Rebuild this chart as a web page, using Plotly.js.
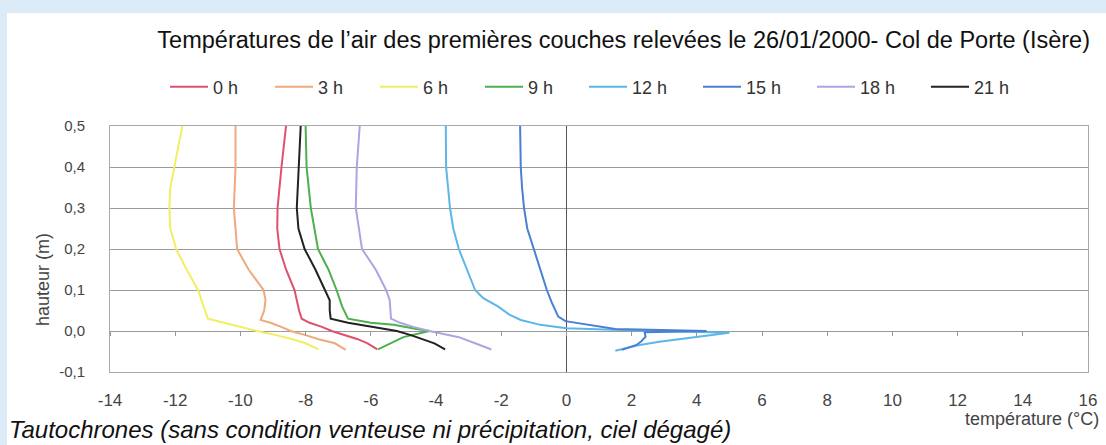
<!DOCTYPE html>
<html>
<head>
<meta charset="utf-8">
<script src="https://cdn.plot.ly/plotly-3.0.1.min.js"></script>
<style>html,body{margin:0;padding:0;background:#fff;}#chart{width:1106px;height:445px;}</style>
</head>
<body>
<div id="chart"></div>
<script>
// ---- data (temperature °C, height m) ----
const seriesNames = ["0 h", "3 h", "6 h", "9 h", "12 h", "15 h", "18 h", "21 h"];
const seriesColors = ["#e0506e", "#eeaa7c", "#f2ee62", "#4cb04c", "#5cb6e8", "#4a80d2", "#aaa6e2", "#222222"];

const h0 = [0.5, 0.45, 0.4, 0.35, 0.3, 0.25, 0.2, 0.15, 0.1, 0.05, 0.03, 0.02, 0.01, 0.0, -0.01, -0.02, -0.03, -0.045];
const t0 = [-8.6, -8.68, -8.74, -8.8, -8.86, -8.87, -8.8, -8.6, -8.34, -8.2, -8.12, -7.88, -7.5, -7.2, -6.8, -6.4, -6.1, -5.8];

const h3 = [0.5, 0.4, 0.3, 0.2, 0.15, 0.1, 0.076, 0.05, 0.027, 0.02, 0.01, 0.0, -0.01, -0.02, -0.03, -0.046];
const t3 = [-10.15, -10.15, -10.2, -10.1, -9.75, -9.29, -9.23, -9.27, -9.38, -9.08, -8.75, -8.46, -8.0, -7.6, -7.1, -6.77];

const h6 = [0.5, 0.45, 0.4, 0.35, 0.3, 0.25, 0.2, 0.15, 0.1, 0.05, 0.03, 0.022, 0.01, 0.0, -0.01, -0.02, -0.03, -0.045];
const t6 = [-11.78, -11.9, -12.03, -12.15, -12.18, -12.15, -11.97, -11.65, -11.3, -11.1, -11.0, -10.6, -10.0, -9.5, -8.9, -8.4, -8.0, -7.6];

const h9 = [0.5, 0.4, 0.3, 0.2, 0.15, 0.1, 0.06, 0.03, 0.02, 0.015, 0.005, 0.0, -0.015, -0.03, -0.045];
const t9 = [-8.0, -7.97, -7.84, -7.62, -7.3, -7.05, -6.88, -6.7, -6.0, -5.3, -4.6, -4.2, -5.0, -5.4, -5.78];

const h12 = [0.5, 0.45, 0.4, 0.35, 0.3, 0.25, 0.2, 0.15, 0.1, 0.08, 0.06, 0.04, 0.027, 0.015, 0.007, 0.003, 0.0, -0.004, -0.02, -0.026, -0.035, -0.048];
const t12 = [-3.7, -3.7, -3.69, -3.63, -3.57, -3.47, -3.3, -3.05, -2.8, -2.55, -2.1, -1.75, -1.4, -0.8, 0.0, 1.4, 3.0, 5.0, 3.45, 2.85, 2.2, 1.5];

const h15 = [0.5, 0.45, 0.4, 0.35, 0.3, 0.25, 0.2, 0.15, 0.1, 0.07, 0.035, 0.024, 0.01, 0.005, 0.0, -0.003, -0.014, -0.025, -0.034, -0.046];
const t15 = [-1.42, -1.41, -1.4, -1.36, -1.3, -1.2, -1.0, -0.8, -0.6, -0.45, -0.25, -0.03, 1.0, 1.5, 4.3, 2.4, 2.43, 2.3, 2.15, 1.7];

const h18 = [0.5, 0.4, 0.3, 0.2, 0.15, 0.1, 0.075, 0.03, 0.02, 0.01, 0.0, -0.015, -0.03, -0.045];
const t18 = [-6.34, -6.43, -6.46, -6.27, -5.85, -5.53, -5.42, -5.38, -5.1, -4.7, -4.2, -3.3, -2.8, -2.3];

const h21 = [0.5, 0.45, 0.4, 0.35, 0.3, 0.25, 0.2, 0.15, 0.1, 0.075, 0.05, 0.03, 0.02, 0.01, 0.0, -0.01, -0.03, -0.045];
const t21 = [-8.15, -8.18, -8.2, -8.25, -8.27, -8.22, -8.03, -7.7, -7.42, -7.26, -7.26, -7.23, -6.7, -5.9, -5.2, -4.77, -4.05, -3.72];

const temps = [t0, t3, t6, t9, t12, t15, t18, t21];
const heights = [h0, h3, h6, h9, h12, h15, h18, h21];

const xTicks = [-14, -12, -10, -8, -6, -4, -2, 0, 2, 4, 6, 8, 10, 12, 14, 16];
const yTicks = [-0.1, 0.0, 0.1, 0.2, 0.3, 0.4, 0.5];

const titleText = "Températures de l’air des premières couches relevées le 26/01/2000- Col de Porte (Isère)";
const yTitleText = "hauteur (m)";
const xTitleText = "température (°C)";
const noteText = "Tautochrones (sans condition venteuse ni précipitation, ciel dégagé)";

// ---- build ----
const FONT = "Liberation Sans, Arial, sans-serif";
const traces = seriesNames.map((n, i) => ({
  type: "scatter", mode: "lines", name: n,
  x: temps[i], y: heights[i],
  legend: i < 4 ? "legend" : "legend2",
  line: {color: seriesColors[i], width: 2},
  hoverinfo: "skip"
}));
// helper trace for tick axis drawn along y = 0
traces.push({type: "scatter", mode: "lines", x: [], y: [], xaxis: "x2", showlegend: false, hoverinfo: "skip"});

const L = 110, R = 1088, T = 126, B = 372;
const W = 1106, H = 445;
const pw = R - L, ph = B - T;
const px = v => (v - L) / pw;
const py = v => (B - v) / ph;

const legendBase = {orientation: "h", xanchor: "left", y: py(87), yanchor: "middle",
  font: {family: FONT, size: 18, color: "#333"}, bgcolor: "rgba(0,0,0,0)", borderwidth: 0,
  itemwidth: 38, entrywidthmode: "pixels"};

const layout = {
  width: W, height: H,
  margin: {l: L, r: W - R, t: T, b: H - B, pad: 0},
  paper_bgcolor: "#dcebf8",
  plot_bgcolor: "rgba(0,0,0,0)",
  separators: ", ",
  font: {family: FONT, color: "#333", size: 15},
  title: {text: titleText, font: {family: FONT, size: 23.5, color: "#111"}, x: 1090 / W, xref: "container", xanchor: "right", y: 1 - 40 / H, yref: "container", yanchor: "middle"},
  showlegend: true,
  legend: Object.assign({}, legendBase, {x: px(165), entrywidth: 52}),
  legend2: Object.assign({}, legendBase, {x: px(584), entrywidth: 61}),
  xaxis: {range: [-14, 16], tickvals: xTicks, ticktext: xTicks.map(v => String(v)), ticks: "", showgrid: false,
          zeroline: true, zerolinecolor: "#555", zerolinewidth: 1,
          showline: true, mirror: true, linecolor: "#aaa", linewidth: 1,
          tickfont: {family: FONT, size: 17, color: "#444"}, ticklabelstandoff: 13, fixedrange: true},
  xaxis2: {range: [-14, 16], tickvals: xTicks, overlaying: "x", anchor: "free", position: py(331),
           showline: false, ticks: "outside", ticklen: 4, tickcolor: "#999", tickwidth: 1,
           showticklabels: false, showgrid: false, zeroline: false, fixedrange: true},
  yaxis: {range: [-0.1, 0.5], tickvals: yTicks, ticktext: yTicks.map(v => v.toFixed(1).replace(".", ",")), ticks: "",
          showgrid: true, gridcolor: "#9a9a9a", gridwidth: 1,
          zeroline: true, zerolinecolor: "#9a9a9a", zerolinewidth: 1,
          showline: true, mirror: true, linecolor: "#aaa", linewidth: 1,
          tickfont: {family: FONT, size: 15, color: "#444"}, ticklabelstandoff: 21, fixedrange: true},
  shapes: [
    {type: "rect", xref: "paper", yref: "paper", x0: px(7), x1: px(W + 5), y0: py(H + 5), y1: py(13),
     fillcolor: "#ffffff", line: {width: 0}, layer: "below"}
  ],
  annotations: [
    {text: yTitleText, xref: "paper", yref: "paper", x: px(43), y: py(280), textangle: -90,
     showarrow: false, xanchor: "center", yanchor: "middle", font: {family: FONT, size: 18, color: "#444"}},
    {text: xTitleText, xref: "paper", yref: "paper", x: px(1101), y: py(419),
     showarrow: false, xanchor: "right", yanchor: "middle", font: {family: FONT, size: 18, color: "#444"}},
    {text: "<i>" + noteText + "</i>", xref: "paper", yref: "paper", x: px(7), y: py(429),
     showarrow: false, xanchor: "left", yanchor: "middle", font: {family: FONT, size: 24, color: "#111"}}
  ]
};

Plotly.newPlot("chart", traces, layout, {displayModeBar: false, staticPlot: true});
</script>
</body>
</html>
